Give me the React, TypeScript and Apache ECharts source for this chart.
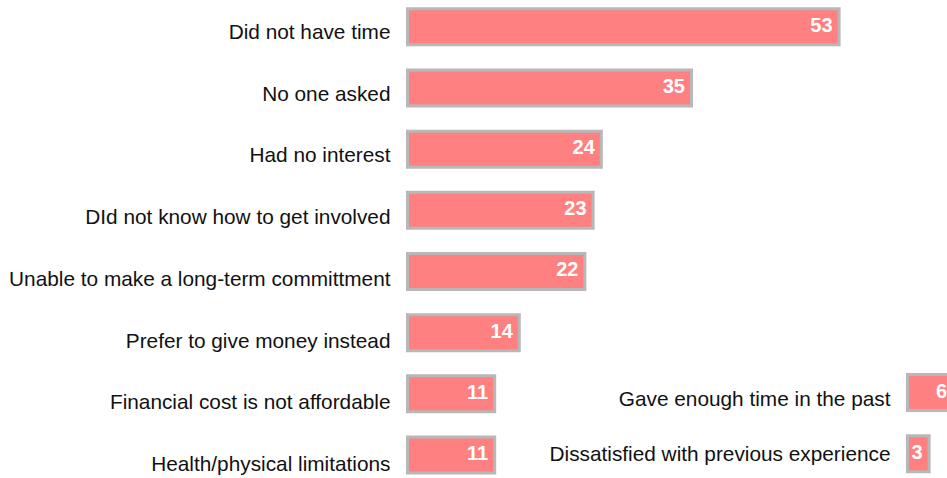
import React, { useEffect, useRef } from "react";
import * as echarts from "echarts";

const leftCategories = [
  "Did not have time",
  "No one asked",
  "Had no interest",
  "DId not know how to get involved",
  "Unable to make a long-term committment",
  "Prefer to give money instead",
  "Financial cost is not affordable",
  "Health/physical limitations",
];
const leftValues = [53, 35, 24, 23, 22, 14, 11, 11];

const rightCategories = [
  "Gave enough time in the past",
  "Dissatisfied with previous experience",
];
const rightValues = [6, 3];

const LABEL_FONT = "'Liberation Sans', Arial, Helvetica, sans-serif";
const VALUE_FONT = "'Liberation Sans', Arial, sans-serif";

export default function App() {
  const ref = useRef<HTMLDivElement>(null);
  useEffect(() => {
    if (!ref.current) return;
    const chart = echarts.init(ref.current, undefined, { renderer: "svg" });
    const hiddenX = (gridIndex: number) => ({
      type: "value" as const,
      gridIndex,
      min: 0,
      max: 60,
      show: false,
    });
    const barStyle = {
      color: "#ff8080",
      borderColor: "#b8b8b8",
      borderWidth: 3,
    };
    const valueLabel = {
      show: true,
      position: "insideRight" as const,
      distance: 8,
      color: "#ffffff",
      fontWeight: "bold" as const,
      fontSize: 20,
      fontFamily: VALUE_FONT,
      offset: [0, -2],
    };
    const labelAxis = (gridIndex: number, data: string[]) => ({
      type: "category" as const,
      gridIndex,
      data,
      inverse: true,
      axisLine: { show: false },
      axisTick: { show: false },
      splitLine: { show: false },
      axisLabel: {
        interval: 0,
        margin: 15.5,
        fontSize: 20.8,
        color: "#111111",
        fontFamily: LABEL_FONT,
      },
    });
    chart.setOption({
      animation: false,
      backgroundColor: "#ffffff",
      grid: [
        { left: 406, top: -3.8, width: 492, height: 489.4, outerBoundsMode: "none", containLabel: false },
        { left: 906, top: 361.9, width: 492, height: 122.4, outerBoundsMode: "none", containLabel: false },
        { left: 406, top: 0.63, width: 10, height: 493.9, outerBoundsMode: "none", containLabel: false },
        { left: 906, top: 370.25, width: 10, height: 111, outerBoundsMode: "none", containLabel: false },
      ],
      xAxis: [hiddenX(0), hiddenX(1), hiddenX(2), hiddenX(3)],
      yAxis: [
        { type: "category", gridIndex: 0, data: leftCategories, inverse: true, show: false },
        { type: "category", gridIndex: 1, data: rightCategories, inverse: true, show: false },
        labelAxis(2, leftCategories),
        labelAxis(3, rightCategories),
      ],
      series: [
        {
          type: "bar",
          xAxisIndex: 0,
          yAxisIndex: 0,
          data: leftValues,
          barWidth: 39,
          itemStyle: barStyle,
          label: valueLabel,
        },
        {
          type: "bar",
          xAxisIndex: 1,
          yAxisIndex: 1,
          data: rightValues,
          barWidth: 39,
          itemStyle: barStyle,
          label: valueLabel,
        },
      ],
    });
    return () => chart.dispose();
  }, []);
  return (
    <div
      ref={ref}
      style={{ position: "fixed", left: 0, top: 0, width: 947, height: 478 }}
    />
  );
}
